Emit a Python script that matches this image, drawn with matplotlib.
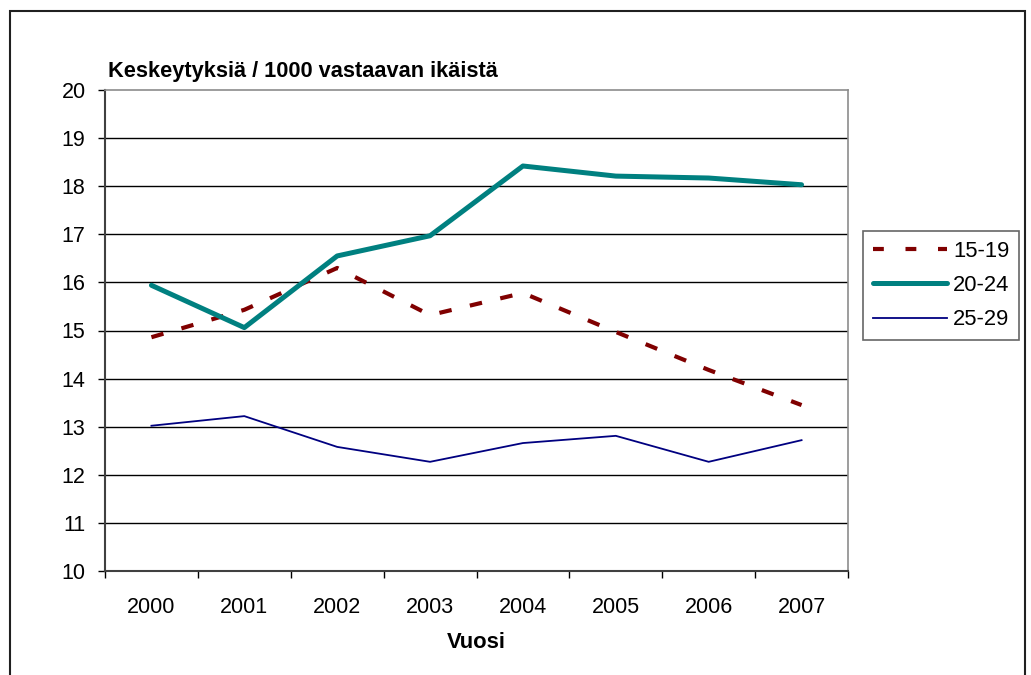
import matplotlib.pyplot as plt
import numpy as np
from matplotlib.lines import Line2D
from matplotlib.patches import Rectangle

plt.rcParams['font.family'] = ['Liberation Sans', 'DejaVu Sans']

years = ["2000", "2001", "2002", "2003", "2004", "2005", "2006", "2007"]
age_15_19 = [14.86, 15.43, 16.30, 15.32, 15.78, 14.97, 14.18, 13.45]
age_20_24 = [15.94, 15.06, 16.55, 16.97, 18.42, 18.21, 18.17, 18.03]
age_25_29 = [13.02, 13.22, 12.58, 12.27, 12.66, 12.81, 12.27, 12.72]
y_ticks = [10, 11, 12, 13, 14, 15, 16, 17, 18, 19, 20]

fig = plt.figure(figsize=(10.31, 6.75), dpi=100)
ax = fig.add_axes([105/1031, 104/675, 743/1031, 481/675])

x = np.arange(len(years))
ax.plot(x, age_15_19, color="#800000", lw=3.0, dashes=(3.0, 4.5),
        dash_capstyle="butt", label="15-19", zorder=3)
ax.plot(x, age_20_24, color="#008080", lw=3.6, solid_capstyle="round",
        label="20-24", zorder=4)
ax.plot(x, age_25_29, color="#000080", lw=1.3, label="25-29", zorder=5)

ax.set_xlim(-0.5, len(years) - 0.5)
ax.set_ylim(10, 20)
ax.set_yticks(y_ticks)
ax.set_yticklabels([str(v) for v in y_ticks], fontsize=15.5)
# category boundaries carry the x tick marks, labels centred in between
ax.set_xticks(np.arange(-0.5, len(years)), minor=False)
ax.set_xticklabels([""] * (len(years) + 1))
ax.set_xticks(x, minor=True)
ax.set_xticklabels(years, minor=True, fontsize=15.5)
ax.tick_params(axis="x", which="minor", length=0, pad=19)
ax.tick_params(axis="x", which="major", length=5, width=1, color="black")
ax.tick_params(axis="y", length=5, width=1, pad=9, color="black")

for v in y_ticks[1:-1]:
    ax.axhline(v, color="black", lw=1, zorder=1)

for side in ["top", "right"]:
    ax.spines[side].set_color("#8c8c8c")
    ax.spines[side].set_linewidth(1.2)
ax.spines["left"].set_color("#404040")
ax.spines["left"].set_linewidth(1.5)
ax.spines["bottom"].set_color("#404040")
ax.spines["bottom"].set_linewidth(1.5)

fig.text(108/1031, 1 - 71/675, "Keskeytyksiä / 1000 vastaavan ikäistä",
         fontsize=15.7, fontweight="bold", ha="left", va="center")
fig.text(476/1031, 1 - 643/675, "Vuosi", fontsize=15.8, fontweight="bold",
         ha="center", va="center")

handles = [Line2D([], [], color="#800000", lw=3.0, dashes=(2.6, 5.2)),
           Line2D([], [], color="#008080", lw=3.6, solid_capstyle="round"),
           Line2D([], [], color="#000080", lw=1.3)]
leg = fig.legend(handles, ["15-19", "20-24", "25-29"],
                 loc="upper left", bbox_to_anchor=(863/1031, 1 - 231/675),
                 fontsize=15.8, frameon=True, fancybox=False, handlelength=3.4,
                 handletextpad=0.25, borderpad=0.45, labelspacing=0.6,
                 borderaxespad=0)
leg.get_frame().set_edgecolor("#404040")
leg.get_frame().set_linewidth(1.2)

fig.patches.append(Rectangle((10/1031, -0.01), 1015/1031, 1.01 - 11/675,
                             transform=fig.transFigure, fill=False,
                             edgecolor="#202020", lw=1.5))

fig.savefig("out.png", dpi=100)
